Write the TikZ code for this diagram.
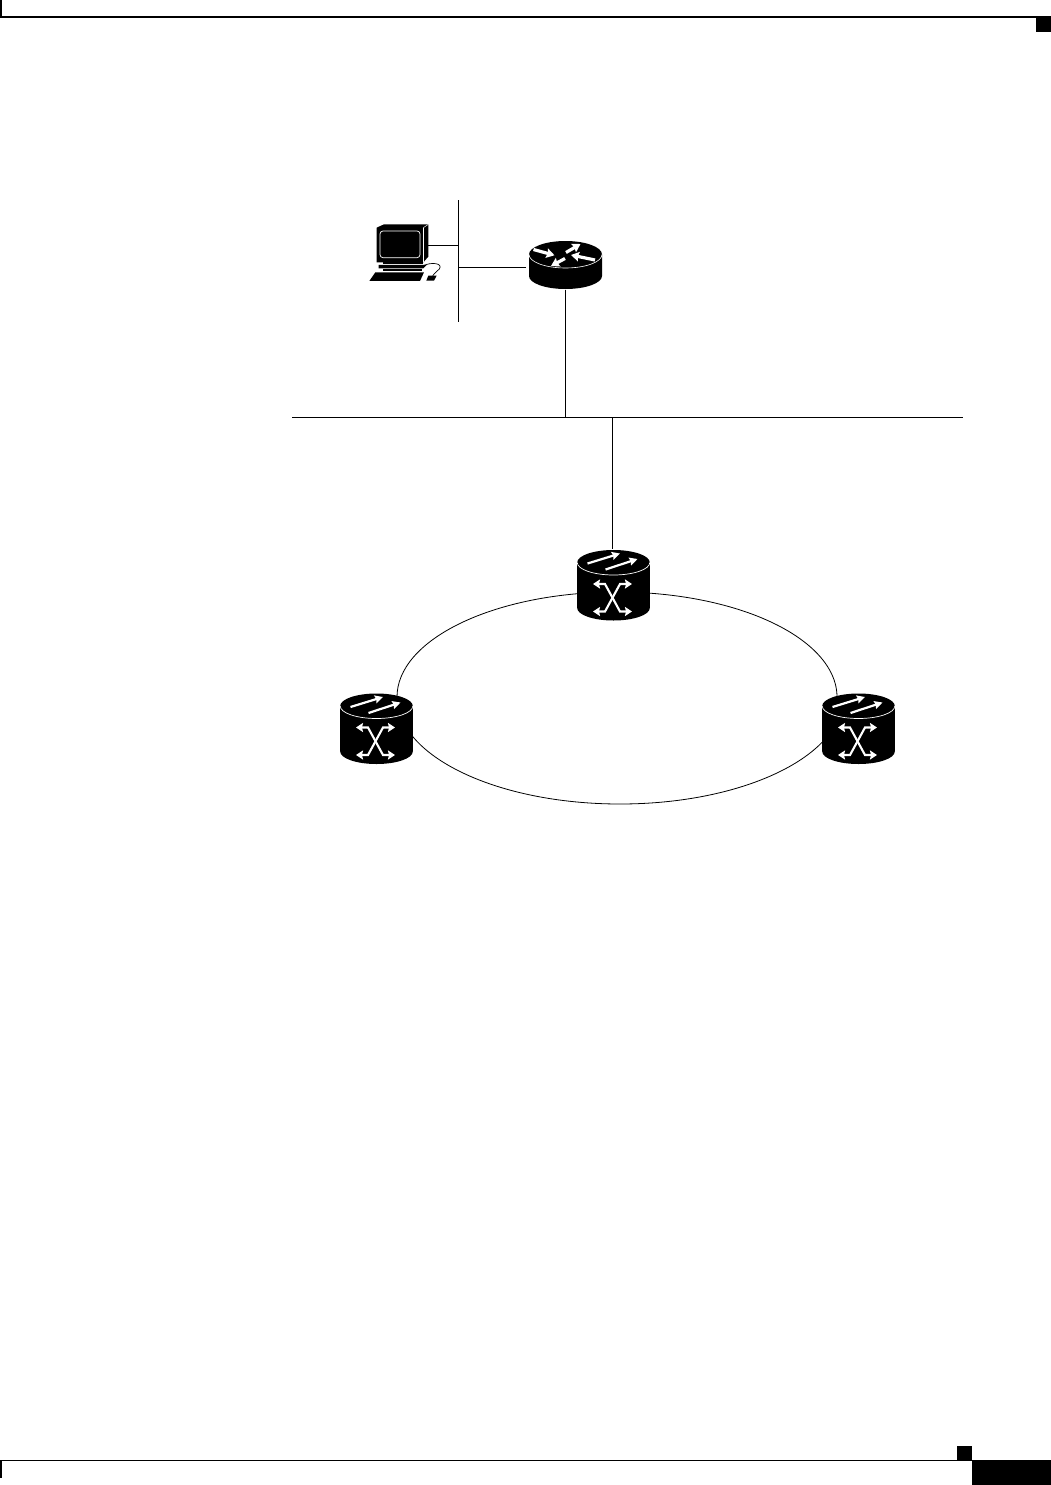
\documentclass[tikz,border=0pt]{standalone}
\usetikzlibrary{arrows.meta}
\tikzset{
  x=1pt,y=-1pt,
  wire/.style={draw=black,line width=1pt},
  devbox/.style={inner sep=0pt,outer sep=0pt,minimum width=73pt,minimum height=72pt},
  rtrbox/.style={inner sep=0pt,outer sep=0pt,minimum width=73pt,minimum height=49pt},
  pcbox/.style={inner sep=0pt,outer sep=0pt,minimum width=60pt,minimum height=58pt},
  whitearrow/.style={draw=white,line width=2.2pt,-{Stealth[length=8pt,width=8pt,inset=1pt]}},
  whitedouble/.style={draw=white,line width=2.1pt,line join=miter,{Stealth[length=7pt,width=9pt,inset=1pt]}-{Stealth[length=7pt,width=9pt,inset=1pt]}},
  whitefat/.style={draw=white,line width=3.2pt,-{Stealth[length=8pt,width=9.5pt,inset=1pt]}},
  ring/.style={draw=black,line width=0.8pt}
}
% optical cross-connect icon, centred on the top ellipse
\newcommand{\oxcicon}[2]{%
  \begin{scope}[shift={(#1,#2)}]
    \fill[black] (-36.3,0) -- (-36.3,45.5) arc[start angle=180,end angle=0,x radius=36.3,y radius=12.5]
       -- (36.3,0) arc[start angle=0,end angle=-180,x radius=36.3,y radius=12.5] -- cycle;
    \draw[white,line width=0.7pt] (-36.3,0) arc[start angle=180,end angle=0,x radius=36.3,y radius=12.5];
    \draw[whitearrow] (-26,1) -- (6.5,-9);
    \draw[whitearrow] (-8,7) -- (24,-3.5);
    \draw[whitedouble] (-20.5,21.5) -- (-8.5,21.5) -- (6.5,49) -- (18.5,49);
    \draw[whitedouble] (-20.5,49) -- (-8.5,49) -- (6.5,21.5) -- (18.5,21.5);
  \end{scope}}
\begin{document}
\begin{tikzpicture}
\useasboundingbox (0,0) rectangle (1051,1485);
% page furniture
\fill[black] (0,16.2) rectangle (1051,17.6);
\fill[black] (0,0) rectangle (2,17);
\fill[black] (1036,17) rectangle (1051,32);
\fill[black] (0,1459.6) rectangle (972,1461);
\fill[black] (0,1460) rectangle (2,1478);
\fill[black] (957,1446) rectangle (972,1460);
\fill[black] (972,1460) rectangle (1051,1485);

% layout nodes
\node[devbox] (swT) at (613.5,585) {};
\node[devbox] (swL) at (376.5,728.5) {};
\node[devbox] (swR) at (858.5,728.5) {};
\node[rtrbox] (rtr) at (565.5,265) {};
\node[pcbox] (pc) at (398,254) {};
\coordinate (lanTop) at (458,200);
\coordinate (lanBot) at (458,322);
\coordinate (busL) at (292,417);
\coordinate (busR) at (963,417);
\coordinate (busTap) at (612,417);
\coordinate (pcTap) at (428,245);
\coordinate (rtrTap) at (526,267);
\coordinate (ringA) at (397,697);
\coordinate (ringB) at (837,697);

% connectors
\draw[wire] (lanTop) -- (lanBot);
\draw[wire] (pcTap) -- (pcTap -| lanTop);
\draw[wire] (rtrTap) -- (rtrTap -| lanTop);
\draw[wire] (rtr.south) -- (rtr.south |- busL);
\draw[wire] (busL) -- (busR);
\draw[wire] (busTap) -- (busTap |- swT.north);
\draw[ring] (ringA) arc[start angle=180,end angle=268,x radius=220,y radius=105];
\draw[ring] (ringB) arc[start angle=0,end angle=-92,x radius=220,y radius=105];
\draw[ring] (ringA) arc[start angle=180,end angle=0,x radius=223,y radius=107];

% devices
\oxcicon{613.5}{562.5}
\oxcicon{376.5}{706}
\oxcicon{858.5}{706}

% router
\begin{scope}[shift={(565.5,254.5)}]
  \fill[black] (-36.5,0) -- (-36.5,21.5) arc[start angle=180,end angle=0,x radius=36.5,y radius=13]
     -- (36.5,0) arc[start angle=0,end angle=-180,x radius=36.5,y radius=13.5] -- cycle;
  \draw[white,line width=0.6pt] (-36.5,0) arc[start angle=180,end angle=0,x radius=36.5,y radius=13.5];
  \draw[whitefat] (-32,-5) -- (-11,0.8);
  \draw[whitefat] (0.5,-2) -- (15,-10.5);
  \draw[whitefat] (29.5,5.5) -- (5.5,0.5);
  \draw[whitefat] (-0.5,4) -- (-14.5,11.5);
\end{scope}

% computer
\begin{scope}[shift={(360,215)},x=0.3333pt,y=-0.3333pt]
  \fill[black] (50,38) -- (72,28) -- (205,28) -- (205,125) -- (190,142) -- (50,142) -- cycle;
  \draw[white,line width=0.5pt] (190,38) -- (205,28);
  \draw[white,line width=0.5pt] (190,38) -- (190,142);
  \draw[white,line width=0.7pt,rounded corners=3pt] (60,48) rectangle (180,128);
  \fill[black] (68,142) rectangle (190,148);
  \fill[black] (56,150) -- (200,150) -- (190,160) -- (56,160) -- cycle;
  \fill[black] (68,162) -- (185,162) -- (185,168) -- (68,168) -- cycle;
  \fill[black] (46,172) -- (192,172) -- (180,198) -- (28,198) -- cycle;
  \fill[black] (205,182) -- (230,182) -- (222,197) -- (199,197) -- cycle;
  \draw[black,line width=0.7pt] (190,152) .. controls (215,140) and (250,145) .. (238,162) .. controls (232,172) and (222,172) .. (218,182);
\end{scope}
\end{tikzpicture}
\end{document}
